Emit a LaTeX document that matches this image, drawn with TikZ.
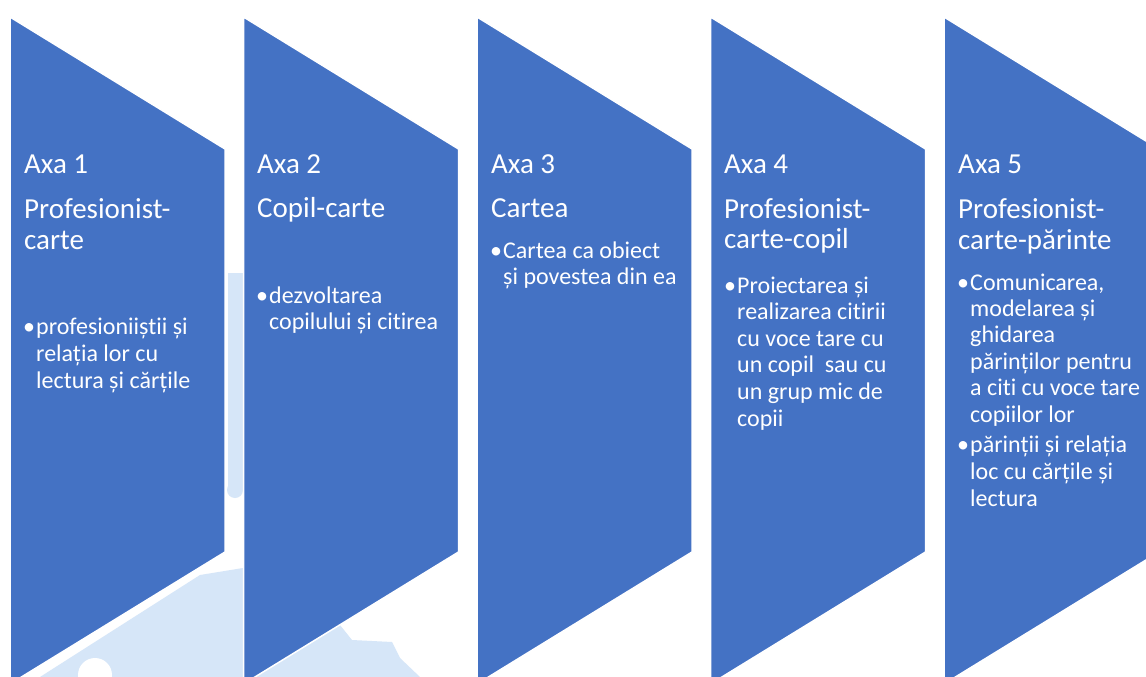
\documentclass[tikz,border=0pt]{standalone}
\usepackage{fontspec}
\setmainfont[RawFeature={-liga}]{Carlito}
\definecolor{chev}{HTML}{4472C4}
\definecolor{wm}{RGB}{214,230,248}
\tikzset{
  chevshape/.style={fill=chev, draw=white, line width=1.5pt},
  tl/.style={inner sep=0pt, anchor=base west, text=white, font=\fontsize{29}{31}\selectfont},
  bl/.style={inner sep=0pt, anchor=base west, text=white, font=\fontsize{24}{27}\selectfont},
}
\begin{document}
\begin{tikzpicture}[x=1pt,y=-1pt]
\useasboundingbox (0,0) rectangle (1146,677);
\clip (0,0) rectangle (1146,677);
\fill[white] (0,0) rectangle (1146,677);
% faint watermark
\fill[wm] (228,273) rectangle (243,490);
\fill[wm] (235,490) circle (8);
\fill[wm] (40,677) -- (200,575) -- (243,568) -- (243,677) -- cycle;
\draw[white, line width=12pt] (40,770) ++(28:190) arc (28:62:190);
\draw[white, line width=10pt] (40,770) ++(20:120) arc (20:75:120);
\fill[white] (95,675) circle (17);
\fill[wm] (243,677) -- (243,640) -- (340,625) -- (352,640) -- (392,642) -- (400,658) -- (420,677) -- cycle;
% chevrons
\foreach \L/\n in {10/1,243.5/2,477/3,710.5/4,944/5}{
  \path[chevshape] (\L,17) -- (\L+215,149) -- (\L+215,552) -- (\L,684) -- cycle;
}
% shape 1
\node[tl] (t1a) at (24,173) {Axa 1};
\node[tl] (t1b) at (24,218) {Profesionist-};
\node[tl] (t1c) at (24,249) {carte};
\node[bl] (b1) at (23,334) {•};
\node[bl] (b1a) at (36,334) {profesioniiștii și};
\node[bl] (b1b) at (36,361) {relația lor cu};
\node[bl] (b1c) at (36,388) {lectura și cărțile};
% shape 2
\node[tl] (t2a) at (257,173) {Axa 2};
\node[tl] (t2b) at (257,217) {Copil-carte};
\node[bl] (b2) at (256,303) {•};
\node[bl] (b2a) at (269,303) {dezvoltarea};
\node[bl] (b2b) at (269,329) {copilului și citirea};
% shape 3
\node[tl] (t3a) at (491,173) {Axa 3};
\node[tl] (t3b) at (491,217) {Cartea};
\node[bl] (b3) at (490,258) {•};
\node[bl] (b3a) at (503,258) {Cartea ca obiect};
\node[bl] (b3b) at (503,284) {și povestea din ea};
% shape 4
\node[tl] (t4a) at (724,173) {Axa 4};
\node[tl] (t4b) at (724,218) {Profesionist-};
\node[tl] (t4c) at (724,248) {carte-copil};
\node[bl] (b4) at (724,293) {•};
\node[bl] (b4a) at (737,293) {Proiectarea și};
\node[bl] (b4b) at (737,319.6) {realizarea citirii};
\node[bl] (b4c) at (737,346.2) {cu voce tare cu};
\node[bl] (b4d) at (737,372.8) {un copil\ \ sau cu};
\node[bl] (b4e) at (737,399.4) {un grup mic de};
\node[bl] (b4f) at (737,426) {copii};
% shape 5
\node[tl] (t5a) at (958,173) {Axa 5};
\node[tl] (t5b) at (958,218) {Profesionist-};
\node[tl] (t5c) at (958,249) {carte-părinte};
\node[bl] (b5) at (957,290) {•};
\node[bl] (b5a) at (970,290) {Comunicarea,};
\node[bl] (b5b) at (970,316.4) {modelarea și};
\node[bl] (b5c) at (970,342.8) {ghidarea};
\node[bl] (b5d) at (970,369.2) {părinților pentru};
\node[bl] (b5e) at (970,395.6) {a citi cu voce tare};
\node[bl] (b5f) at (970,422) {copiilor lor};
\node[bl] (b6) at (957,452) {•};
\node[bl] (b6a) at (970,452) {părinții și relația};
\node[bl] (b6b) at (970,479) {loc cu cărțile și};
\node[bl] (b6c) at (970,506) {lectura};
\end{tikzpicture}
\end{document}
